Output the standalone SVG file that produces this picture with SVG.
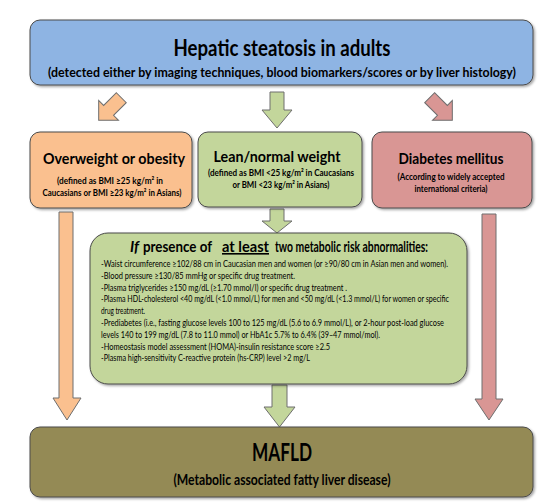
<svg xmlns="http://www.w3.org/2000/svg" width="559" height="502" viewBox="0 0 559 502">
<defs>
<filter id="sh" x="-5%" y="-5%" width="110%" height="115%">
<feDropShadow dx="1.5" dy="1.5" stdDeviation="1" flood-color="#000" flood-opacity="0.35"/>
</filter>
<style>
.box{stroke:#4a4a4a;stroke-width:1;filter:url(#sh)}
.arr{stroke:#6e6e6e;stroke-width:1;stroke-linejoin:miter}
.blue{fill:#8EB4E3}.orange{fill:#FAC08F}.green{fill:#C3D69B}.red{fill:#D99694}.olive{fill:#948A54}
text{font-family:Lato,"Liberation Sans",sans-serif;fill:#000}
.t1{font-size:22px;font-weight:bold}
.t2{font-size:13.5px;font-weight:bold}
.h{font-size:15.5px;font-weight:bold}
.hh{font-size:16px;font-weight:bold}
.s{font-size:9.5px;font-weight:bold}
.b{font-size:8.5px}
.m{font-size:25px;font-weight:bold}
.ms{font-size:15px;font-weight:bold}
</style>
</defs>
<rect width="559" height="502" fill="#fff"/>

<g id="connectors">
<g transform="translate(110,109) rotate(45)">
<path class="arr orange" d="M-7,-16 L7,-16 L7,2 L14,2 L0,16 L-14,2 L-7,2 Z"/>
</g>
<path class="arr green" d="M270,92 L284,92 L284,110 L292,110 L277,128 L262,110 L270,110 Z"/>
<g transform="translate(441,109) rotate(-45)">
<path class="arr red" d="M-7,-16 L7,-16 L7,2 L14,2 L0,16 L-14,2 L-7,2 Z"/>
</g>
<path class="arr green" d="M270,209 L284,209 L284,221 L292,221 L277,233 L262,221 L270,221 Z"/>
<path class="arr orange" d="M59,212 L73,212 L73,398 L81,398 L67,420 L53,398 L59,398 Z"/>
<path class="arr red" d="M482,214 L496,214 L496,399 L503,399 L489,420 L475,399 L482,399 Z"/>
<path class="arr green" d="M272,385 L287,385 L287,407 L295,407 L279.5,427 L264,407 L272,407 Z"/>
</g>

<g id="hepatic">
<rect class="box blue" x="30" y="20" width="503" height="65" rx="10"/>
<text class="t1" x="282" y="56" text-anchor="middle" textLength="217" lengthAdjust="spacingAndGlyphs">Hepatic steatosis in adults</text>
<text class="t2" x="282" y="77" text-anchor="middle" textLength="468" lengthAdjust="spacingAndGlyphs">(detected either by imaging techniques, blood biomarkers/scores  or by liver histology)</text>
</g>

<g id="overweight">
<rect class="box orange" x="30" y="132" width="162" height="76" rx="10"/>
<text class="h" x="114" y="164" text-anchor="middle" textLength="142" lengthAdjust="spacingAndGlyphs">Overweight or obesity</text>
<text class="s" x="110" y="184" text-anchor="middle" textLength="106" lengthAdjust="spacingAndGlyphs">(defined as BMI ≥25 kg/m² in</text>
<text class="s" x="112" y="196" text-anchor="middle" textLength="139" lengthAdjust="spacingAndGlyphs">Caucasians or BMI ≥23 kg/m² in Asians)</text>
</g>

<g id="lean">
<rect class="box green" x="198" y="132" width="164" height="75" rx="10"/>
<text class="h" x="277" y="162" text-anchor="middle" textLength="127" lengthAdjust="spacingAndGlyphs">Lean/normal weight</text>
<text class="s" x="281" y="176" text-anchor="middle" textLength="146" lengthAdjust="spacingAndGlyphs">(defined as BMI &lt;25 kg/m² in Caucasians</text>
<text class="s" x="281" y="188" text-anchor="middle" textLength="97" lengthAdjust="spacingAndGlyphs">or BMI &lt;23 kg/m² in Asians)</text>
</g>

<g id="diabetes">
<rect class="box red" x="372" y="132" width="160" height="76" rx="10"/>
<text class="h" x="451" y="164" text-anchor="middle" textLength="105" lengthAdjust="spacingAndGlyphs">Diabetes mellitus</text>
<text class="s" x="451" y="180" text-anchor="middle" textLength="107" lengthAdjust="spacingAndGlyphs">(According to widely accepted</text>
<text class="s" x="451" y="192" text-anchor="middle" textLength="73" lengthAdjust="spacingAndGlyphs">international criteria)</text>
</g>

<g id="criteria">
<rect class="box green" x="90" y="233" width="377" height="151" rx="18"/>
<text class="hh" x="130" y="252" font-style="italic" textLength="9" lengthAdjust="spacingAndGlyphs">If</text>
<text class="hh" x="143" y="252" textLength="69" lengthAdjust="spacingAndGlyphs">presence of</text>
<text class="hh" x="222" y="252" text-decoration="underline" textLength="47" lengthAdjust="spacingAndGlyphs">at least</text>
<text class="hh" x="275" y="252" textLength="153" lengthAdjust="spacingAndGlyphs">two metabolic risk abnormalities:</text>
<text class="b" x="101" y="267" textLength="347" lengthAdjust="spacingAndGlyphs">-Waist circumference ≥102/88 cm in Caucasian men and women (or ≥90/80 cm in Asian men and women).</text>
<text class="b" x="101" y="278.8" textLength="194" lengthAdjust="spacingAndGlyphs">-Blood pressure ≥130/85 mmHg or specific drug treatment.</text>
<text class="b" x="101" y="290.6" textLength="246" lengthAdjust="spacingAndGlyphs">-Plasma triglycerides ≥150 mg/dL (≥1.70 mmol/l) or specific drug treatment .</text>
<text class="b" x="101" y="302.4" textLength="348" lengthAdjust="spacingAndGlyphs">-Plasma HDL-cholesterol &lt;40 mg/dL (&lt;1.0 mmol/L) for men and &lt;50 mg/dL (&lt;1.3 mmol/L) for women or specific</text>
<text class="b" x="101" y="314.2" textLength="44" lengthAdjust="spacingAndGlyphs">drug treatment.</text>
<text class="b" x="101" y="326" textLength="343" lengthAdjust="spacingAndGlyphs">-Prediabetes (i.e., fasting glucose levels 100 to 125 mg/dL (5.6 to 6.9 mmol/L),  or 2-hour post-load glucose</text>
<text class="b" x="101" y="337.8" textLength="279" lengthAdjust="spacingAndGlyphs">levels 140 to 199 mg/dL (7.8 to 11.0 mmol) or HbA1c 5.7% to 6.4% (39–47 mmol/mol).</text>
<text class="b" x="101" y="349.6" textLength="229" lengthAdjust="spacingAndGlyphs">-Homeostasis model assessment (HOMA)-insulin resistance score ≥2.5</text>
<text class="b" x="101" y="361.4" textLength="209" lengthAdjust="spacingAndGlyphs">-Plasma high-sensitivity C-reactive protein (hs-CRP) level &gt;2 mg/L</text>
</g>

<g id="mafld">
<rect class="box olive" x="30" y="427" width="503" height="70" rx="10"/>
<text class="m" x="282" y="461" text-anchor="middle" textLength="60" lengthAdjust="spacingAndGlyphs">MAFLD</text>
<text class="ms" x="282" y="485" text-anchor="middle" textLength="217" lengthAdjust="spacingAndGlyphs">(Metabolic associated fatty liver disease)</text>
</g>
</svg>
